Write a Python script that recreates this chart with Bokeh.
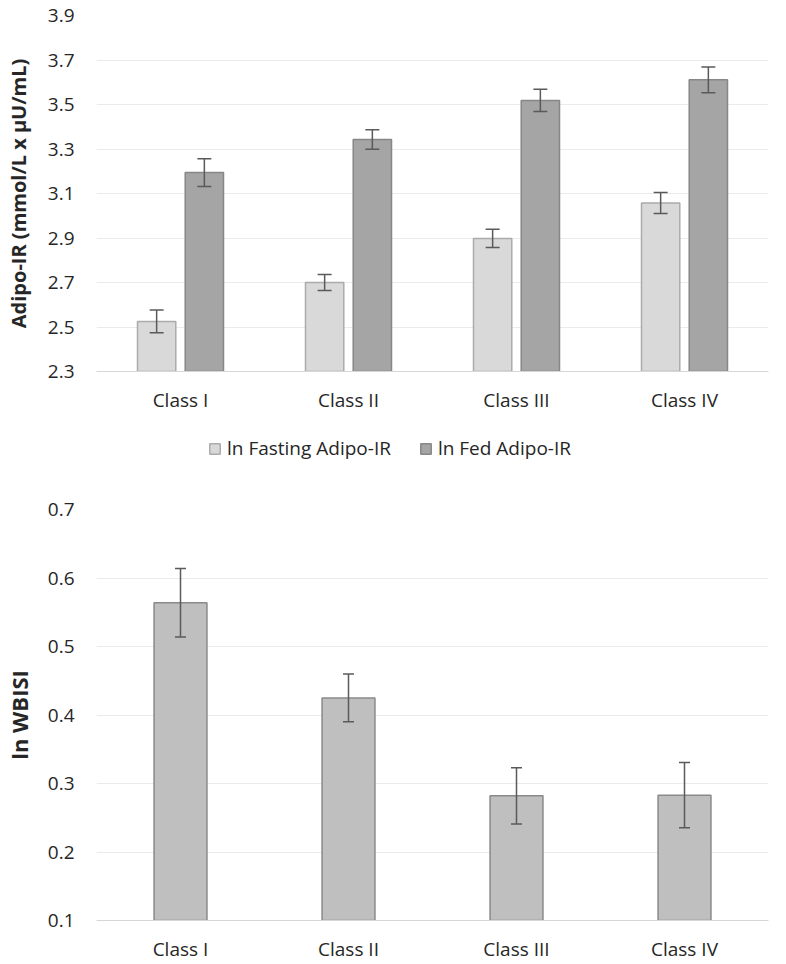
from bokeh.plotting import figure
from bokeh.models import (ColumnDataSource, FactorRange, Range1d, FixedTicker,
                          PrintfTickFormatter, Whisker, TeeHead, Legend, LegendItem)
from bokeh.transform import dodge
from bokeh.layouts import column
from bokeh.embed import file_html
from bokeh.resources import INLINE

# ---- data ----
classes = ["Class I", "Class II", "Class III", "Class IV"]
fasting = [2.525, 2.700, 2.898, 3.057]
fasting_err = [0.051, 0.036, 0.041, 0.047]
fed = [3.194, 3.343, 3.518, 3.611]
fed_err = [0.062, 0.044, 0.050, 0.058]
wbisi = [0.564, 0.425, 0.282, 0.283]
wbisi_err = [0.050, 0.035, 0.041, 0.0475]
top_ticks = [2.3, 2.5, 2.7, 2.9, 3.1, 3.3, 3.5, 3.7, 3.9]
bottom_ticks = [0.1, 0.2, 0.3, 0.4, 0.5, 0.6, 0.7]
legend_labels = ["ln Fasting Adipo-IR", "ln Fed Adipo-IR"]

FONT = "Open Sans"
TXT = "#262626"
GRID = "#ebebeb"
BASE = "#d6d6d6"
ERR = "#5a5a5a"
FAST_FILL, FAST_LINE = "#d9d9d9", "#ababab"
FED_FILL, FED_LINE = "#a5a5a5", "#878787"


def style(p, ticks):
    p.outline_line_color = None
    p.xgrid.grid_line_color = None
    p.ygrid.grid_line_color = GRID
    p.ygrid.grid_line_width = 1
    p.yaxis.ticker = FixedTicker(ticks=ticks)
    p.yaxis.formatter = PrintfTickFormatter(format="%.1f")
    p.yaxis.axis_line_color = None
    p.yaxis.major_tick_line_color = None
    p.yaxis.minor_tick_line_color = None
    p.yaxis.major_tick_out = 0
    p.yaxis.major_label_standoff = 22
    p.yaxis.major_label_text_font = FONT
    p.yaxis.major_label_text_font_size = "19px"
    p.yaxis.major_label_text_color = TXT
    p.yaxis.axis_label_text_font = FONT
    p.yaxis.axis_label_text_font_style = "bold"
    p.yaxis.axis_label_text_color = TXT
    p.xaxis.axis_line_color = BASE
    p.xaxis.axis_line_width = 1
    p.xaxis.major_tick_line_color = None
    p.xaxis.minor_tick_line_color = None
    p.xaxis.major_tick_out = 0
    p.xaxis.major_label_text_font = FONT
    p.xaxis.major_label_text_font_size = "19px"
    p.xaxis.major_label_text_color = TXT


# ---- top chart ----
src1 = ColumnDataSource(dict(
    cls=classes, fasting=fasting, fed=fed,
    f_up=[v + e for v, e in zip(fasting, fasting_err)],
    f_lo=[v - e for v, e in zip(fasting, fasting_err)],
    d_up=[v + e for v, e in zip(fed, fed_err)],
    d_lo=[v - e for v, e in zip(fed, fed_err)],
))

p1 = figure(width=770, height=415, x_range=FactorRange(*classes),
            y_range=Range1d(top_ticks[0], top_ticks[-1]),
            output_backend="svg", toolbar_location=None,
            min_border_left=89, min_border_right=2, min_border_top=15,
            min_border_bottom=44)
style(p1, top_ticks)
p1.yaxis.axis_label = "Adipo-IR (mmol/L x μU/mL)"
p1.yaxis.axis_label_text_font_size = "20px"
p1.yaxis.axis_label_standoff = 13
p1.xaxis.major_label_standoff = 15

p1.vbar(x=dodge("cls", -0.142, range=p1.x_range), top="fasting",
        bottom=top_ticks[0], width=0.228, source=src1,
        fill_color=FAST_FILL, line_color=FAST_LINE, line_width=1.5)
p1.vbar(x=dodge("cls", 0.142, range=p1.x_range), top="fed",
        bottom=top_ticks[0], width=0.228, source=src1,
        fill_color=FED_FILL, line_color=FED_LINE, line_width=1.5)

for off, up, lo in [(-0.142, "f_up", "f_lo"), (0.142, "d_up", "d_lo")]:
    w = Whisker(source=src1, base=dodge("cls", off, range=p1.x_range),
                upper=up, lower=lo, line_color=ERR, line_width=1.5,
                level="overlay",
                upper_head=TeeHead(size=14, line_color=ERR, line_width=1.5),
                lower_head=TeeHead(size=14, line_color=ERR, line_width=1.5))
    p1.add_layout(w)

# ---- legend strip (swatches for the top chart) ----
pl = figure(width=770, height=66, x_range=FactorRange(*classes),
            y_range=Range1d(top_ticks[0], top_ticks[-1]),
            x_axis_type=None, y_axis_type=None,
            output_backend="svg", toolbar_location=None,
            min_border_left=0, min_border_right=0, min_border_top=0,
            min_border_bottom=0)
pl.outline_line_color = None
pl.xgrid.visible = False
pl.ygrid.visible = False
lr1 = pl.vbar(x="cls", top="fasting", bottom=top_ticks[0], width=0.228,
              source=src1, fill_color=FAST_FILL, line_color=FAST_LINE,
              line_width=1.5, visible=False)
lr2 = pl.vbar(x="cls", top="fed", bottom=top_ticks[0], width=0.228,
              source=src1, fill_color=FED_FILL, line_color=FED_LINE,
              line_width=1.5, visible=False)
legend = Legend(items=[LegendItem(label=legend_labels[0], renderers=[lr1]),
                       LegendItem(label=legend_labels[1], renderers=[lr2])],
                orientation="horizontal", location=(112, 20),
                label_text_font=FONT, label_text_font_size="19px",
                label_text_color=TXT, glyph_width=13, glyph_height=13,
                label_standoff=6, spacing=28, padding=0, margin=0,
                inactive_fill_alpha=0,
                border_line_color=None, background_fill_alpha=0)
pl.add_layout(legend, "center")

# ---- bottom chart ----
src2 = ColumnDataSource(dict(
    cls=classes, wbisi=wbisi,
    up=[v + e for v, e in zip(wbisi, wbisi_err)],
    lo=[v - e for v, e in zip(wbisi, wbisi_err)],
))

p2 = figure(width=770, height=483, x_range=FactorRange(*classes),
            y_range=Range1d(bottom_ticks[0], bottom_ticks[-1]),
            output_backend="svg", toolbar_location=None,
            min_border_left=89, min_border_right=2, min_border_top=28,
            min_border_bottom=44)
style(p2, bottom_ticks)
p2.yaxis.axis_label = "ln WBISI"
p2.yaxis.axis_label_text_font_size = "22px"
p2.yaxis.axis_label_standoff = 11
p2.xaxis.major_label_standoff = 15

p2.vbar(x="cls", top="wbisi", bottom=bottom_ticks[0], width=0.315, source=src2,
        fill_color="#bfbfbf", line_color="#8a8a8a", line_width=1.5)
w2 = Whisker(source=src2, base="cls", upper="up", lower="lo",
             line_color=ERR, line_width=1.5, level="overlay",
             upper_head=TeeHead(size=11, line_color=ERR, line_width=1.5),
             lower_head=TeeHead(size=11, line_color=ERR, line_width=1.5))
p2.add_layout(w2)

layout = column(p1, pl, p2, spacing=0)
open("out.html", "w").write(file_html(layout, INLINE))
